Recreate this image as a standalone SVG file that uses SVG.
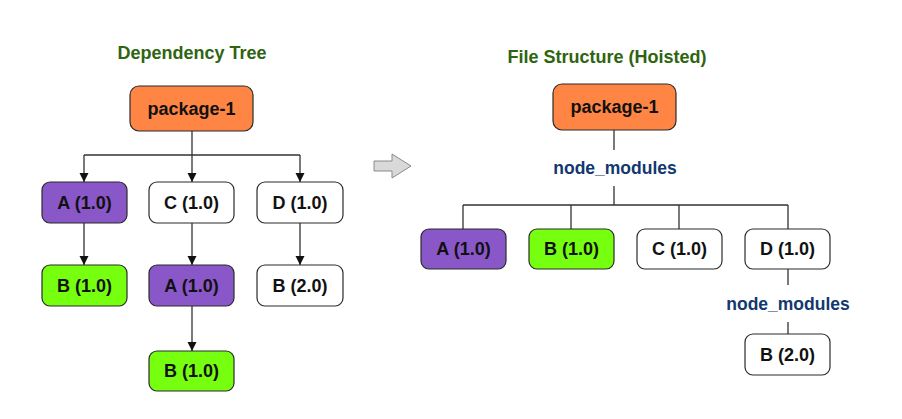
<svg xmlns="http://www.w3.org/2000/svg" width="902" height="419" viewBox="0 0 902 419">
  <style>
    .box { stroke: #2b2b2b; stroke-width: 1.2; }
    .pkg { fill: #ff8544; }
    .a { fill: #8a57c9; }
    .b { fill: #76ff0f; }
    .plain { fill: #ffffff; }
    .label { font-family: "Liberation Sans", Arial, sans-serif; font-weight: bold; font-size: 18px; fill: #111; text-anchor: middle; dominant-baseline: central; }
    .title { font-family: "Liberation Sans", Arial, sans-serif; font-weight: bold; font-size: 18px; fill: #2f6410; text-anchor: middle; }
    .nm { font-family: "Liberation Sans", Arial, sans-serif; font-weight: bold; font-size: 17.5px; fill: #12386f; text-anchor: middle; dominant-baseline: central; }
    .edge { stroke: #333; stroke-width: 1.3; fill: none; }
  </style>
  <defs>
    <marker id="arrow" viewBox="0 0 10 10" refX="10" refY="5" markerWidth="9" markerHeight="10" markerUnits="userSpaceOnUse" orient="auto">
      <path d="M0,0 L10,5 L0,10 z" fill="#111"/>
    </marker>
  </defs>

  <!-- titles -->
  <text class="title" x="192" y="59">Dependency Tree</text>
  <text class="title" x="607" y="63">File Structure (Hoisted)</text>

  <!-- connectors -->
  <g id="connectors">
    <!-- dependency tree -->
    <path class="edge" d="M192,131 V155 M84,155 H300"/>
    <path class="edge" d="M84,155 V182" marker-end="url(#arrow)"/>
    <path class="edge" d="M192,155 V182" marker-end="url(#arrow)"/>
    <path class="edge" d="M300,155 V182" marker-end="url(#arrow)"/>
    <path class="edge" d="M84,223 V265" marker-end="url(#arrow)"/>
    <path class="edge" d="M192,223 V265" marker-end="url(#arrow)"/>
    <path class="edge" d="M300,223 V265" marker-end="url(#arrow)"/>
    <path class="edge" d="M192,306 V351" marker-end="url(#arrow)"/>
    <!-- hoisted file structure -->
    <path class="edge" d="M614,130 V150 M614,186 V205 M463,205 H788 M463,205 V229 M571,205 V229 M679,205 V229 M788,205 V229"/>
    <path class="edge" d="M788,269 V285 M788,322 V334"/>
    <!-- transform arrow -->
    <path d="M374,161 H392 V154 L411,166 L392,178 V171 H374 z" fill="#d9d9d9" stroke="#8a8a8a" stroke-width="1"/>
  </g>

  <!-- dependency tree nodes -->
  <g id="dt-package-1"><rect class="box pkg" x="130" y="86" width="123" height="45" rx="9"/><text class="label" x="191.5" y="108.5">package-1</text></g>
  <g id="dt-a"><rect class="box a" x="42" y="182" width="85" height="41" rx="8"/><text class="label" x="84.5" y="202.5">A (1.0)</text></g>
  <g id="dt-c"><rect class="box plain" x="149" y="182" width="85" height="41" rx="8"/><text class="label" x="191.5" y="202.5">C (1.0)</text></g>
  <g id="dt-d"><rect class="box plain" x="257" y="182" width="86" height="41" rx="8"/><text class="label" x="300" y="202.5">D (1.0)</text></g>
  <g id="dt-a-b"><rect class="box b" x="42" y="265" width="85" height="41" rx="8"/><text class="label" x="84.5" y="285.5">B (1.0)</text></g>
  <g id="dt-c-a"><rect class="box a" x="149" y="265" width="85" height="41" rx="8"/><text class="label" x="191.5" y="285.5">A (1.0)</text></g>
  <g id="dt-d-b"><rect class="box plain" x="257" y="265" width="86" height="41" rx="8"/><text class="label" x="300" y="285.5">B (2.0)</text></g>
  <g id="dt-c-a-b"><rect class="box b" x="149" y="351" width="85" height="40" rx="8"/><text class="label" x="191.5" y="371">B (1.0)</text></g>

  <!-- hoisted file structure nodes -->
  <g id="fs-package-1"><rect class="box pkg" x="553" y="84" width="123" height="46" rx="9"/><text class="label" x="614.5" y="107">package-1</text></g>
  <g id="fs-node-modules"><text class="nm" x="615" y="168">node_modules</text></g>
  <g id="fs-a"><rect class="box a" x="421" y="229" width="85" height="40" rx="8"/><text class="label" x="463.5" y="249">A (1.0)</text></g>
  <g id="fs-b"><rect class="box b" x="529" y="229" width="85" height="40" rx="8"/><text class="label" x="571.5" y="249">B (1.0)</text></g>
  <g id="fs-c"><rect class="box plain" x="637" y="229" width="85" height="40" rx="8"/><text class="label" x="679.5" y="249">C (1.0)</text></g>
  <g id="fs-d"><rect class="box plain" x="745" y="229" width="85" height="40" rx="8"/><text class="label" x="787.5" y="249">D (1.0)</text></g>
  <g id="fs-d-node-modules"><text class="nm" x="788" y="304">node_modules</text></g>
  <g id="fs-d-b"><rect class="box plain" x="745" y="334" width="85" height="41" rx="8"/><text class="label" x="787.5" y="354.5">B (2.0)</text></g>
</svg>
